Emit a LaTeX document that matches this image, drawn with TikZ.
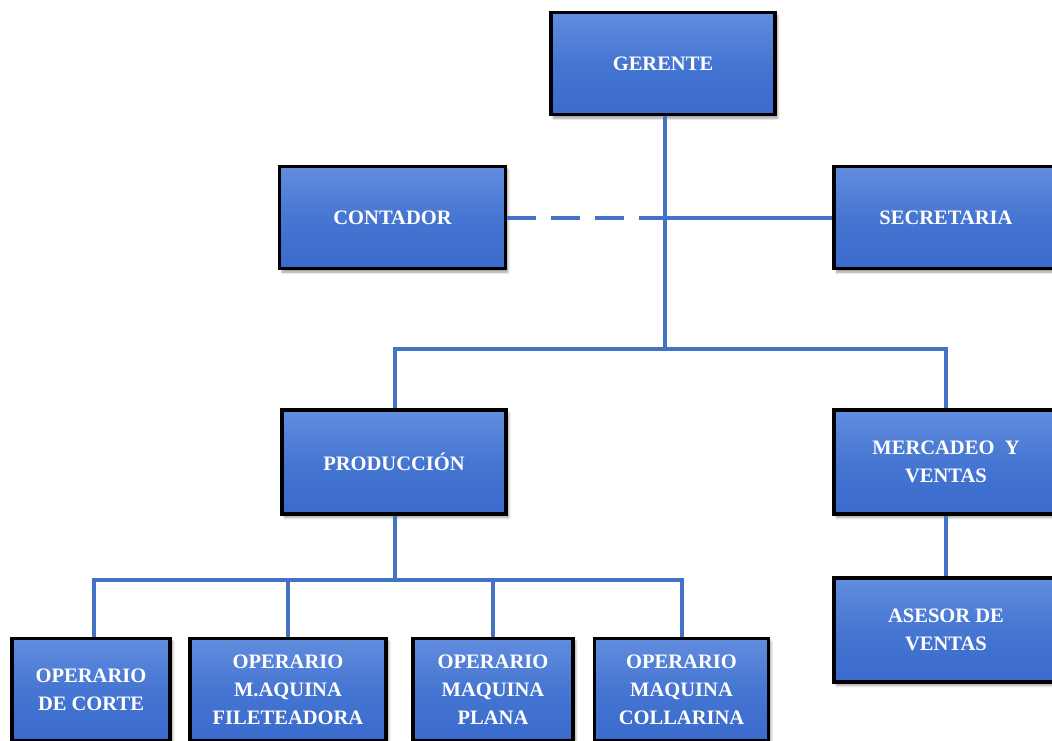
\documentclass[tikz,border=0pt]{standalone}
\usepackage{fontspec}
\setmainfont{Liberation Serif}
\usepackage{tikz}
\usetikzlibrary{shadows.blur}
\usepackage{xcolor}

\definecolor{boxtop}{RGB}{98,141,222}
\definecolor{boxmid}{RGB}{70,118,210}
\definecolor{boxbot}{RGB}{58,106,204}
\definecolor{linkblue}{RGB}{68,114,196}

\tikzset{
  orgbox/.style={draw=black, line width=2.4pt, rectangle,
    top color=boxtop, bottom color=boxbot, middle color=boxmid,
    blur shadow={shadow xshift=2pt, shadow yshift=-2.5pt, shadow blur steps=6},
    text=white, align=center, inner sep=0pt,
    font=\bfseries\fontsize{15.4}{21}\selectfont},
  link/.style={draw=linkblue, line width=3pt},
  dashlink/.style={link, dash pattern=on 22pt off 11pt}
}

\begin{document}
\begin{tikzpicture}[x=0.75pt,y=0.75pt,yscale=-1,xscale=1]
\clip (0,0) rectangle (1052,740);

%Shape: Rectangle [top]
\node [orgbox, minimum width=168pt, minimum height=77pt] (gerente) at (663,63.5) {GERENTE};
%Shape: Rectangle [second row]
\node [orgbox, minimum width=169pt, minimum height=77pt] (contador) at (392.5,217.5) {CONTADOR};
\node [orgbox, minimum width=168pt, minimum height=77pt] (secretaria) at (946,217.5) {SECRETARIA};
%Shape: Rectangle [areas]
\node [orgbox, minimum width=168pt, minimum height=78pt] (produccion) at (394,462) {PRODUCCIÓN};
\node [orgbox, minimum width=168pt, minimum height=78pt] (mercadeo) at (946,462) {MERCADEO\ \ Y\\VENTAS};
\node [orgbox, minimum width=168pt, minimum height=78pt] (asesor) at (946,630) {ASESOR DE\\VENTAS};
%Shape: Rectangle [operarios]
\node [orgbox, minimum width=118.5pt, minimum height=77pt] (corte) at (91,689.5) {OPERARIO\\DE CORTE};
\node [orgbox, minimum width=147pt, minimum height=77pt] (filete) at (288,689.5) {OPERARIO\\M.AQUINA\\FILETEADORA};
\node [orgbox, minimum width=120pt, minimum height=77pt] (plana) at (493,689.5) {OPERARIO\\MAQUINA\\PLANA};
\node [orgbox, minimum width=130pt, minimum height=77pt] (collar) at (681.5,689.5) {OPERARIO\\MAQUINA\\COLLARINA};

%Straight Lines
\coordinate (trunk) at (665,349);
\coordinate (prodbar) at (395,580);
\draw [link] (gerente.south -| trunk) -- (trunk);
\draw [dashlink] (contador.east) -- (contador.east -| trunk);
\draw [link] (contador.east -| trunk) -- (secretaria.west);
\draw [link] (produccion.north -| prodbar) -- (prodbar |- trunk) -- (mercadeo.north |- trunk) -- (mercadeo.north);
\draw [link] (produccion.south -| prodbar) -- (prodbar);
\draw [link] (corte.north -| 94,0) -- (94,580) -- (collar.north |- prodbar) -- (collar.north);
\draw [link] (filete.north) -- (filete.north |- prodbar);
\draw [link] (plana.north) -- (plana.north |- prodbar);
\draw [link] (mercadeo.south) -- (asesor.north);

\end{tikzpicture}
\end{document}
